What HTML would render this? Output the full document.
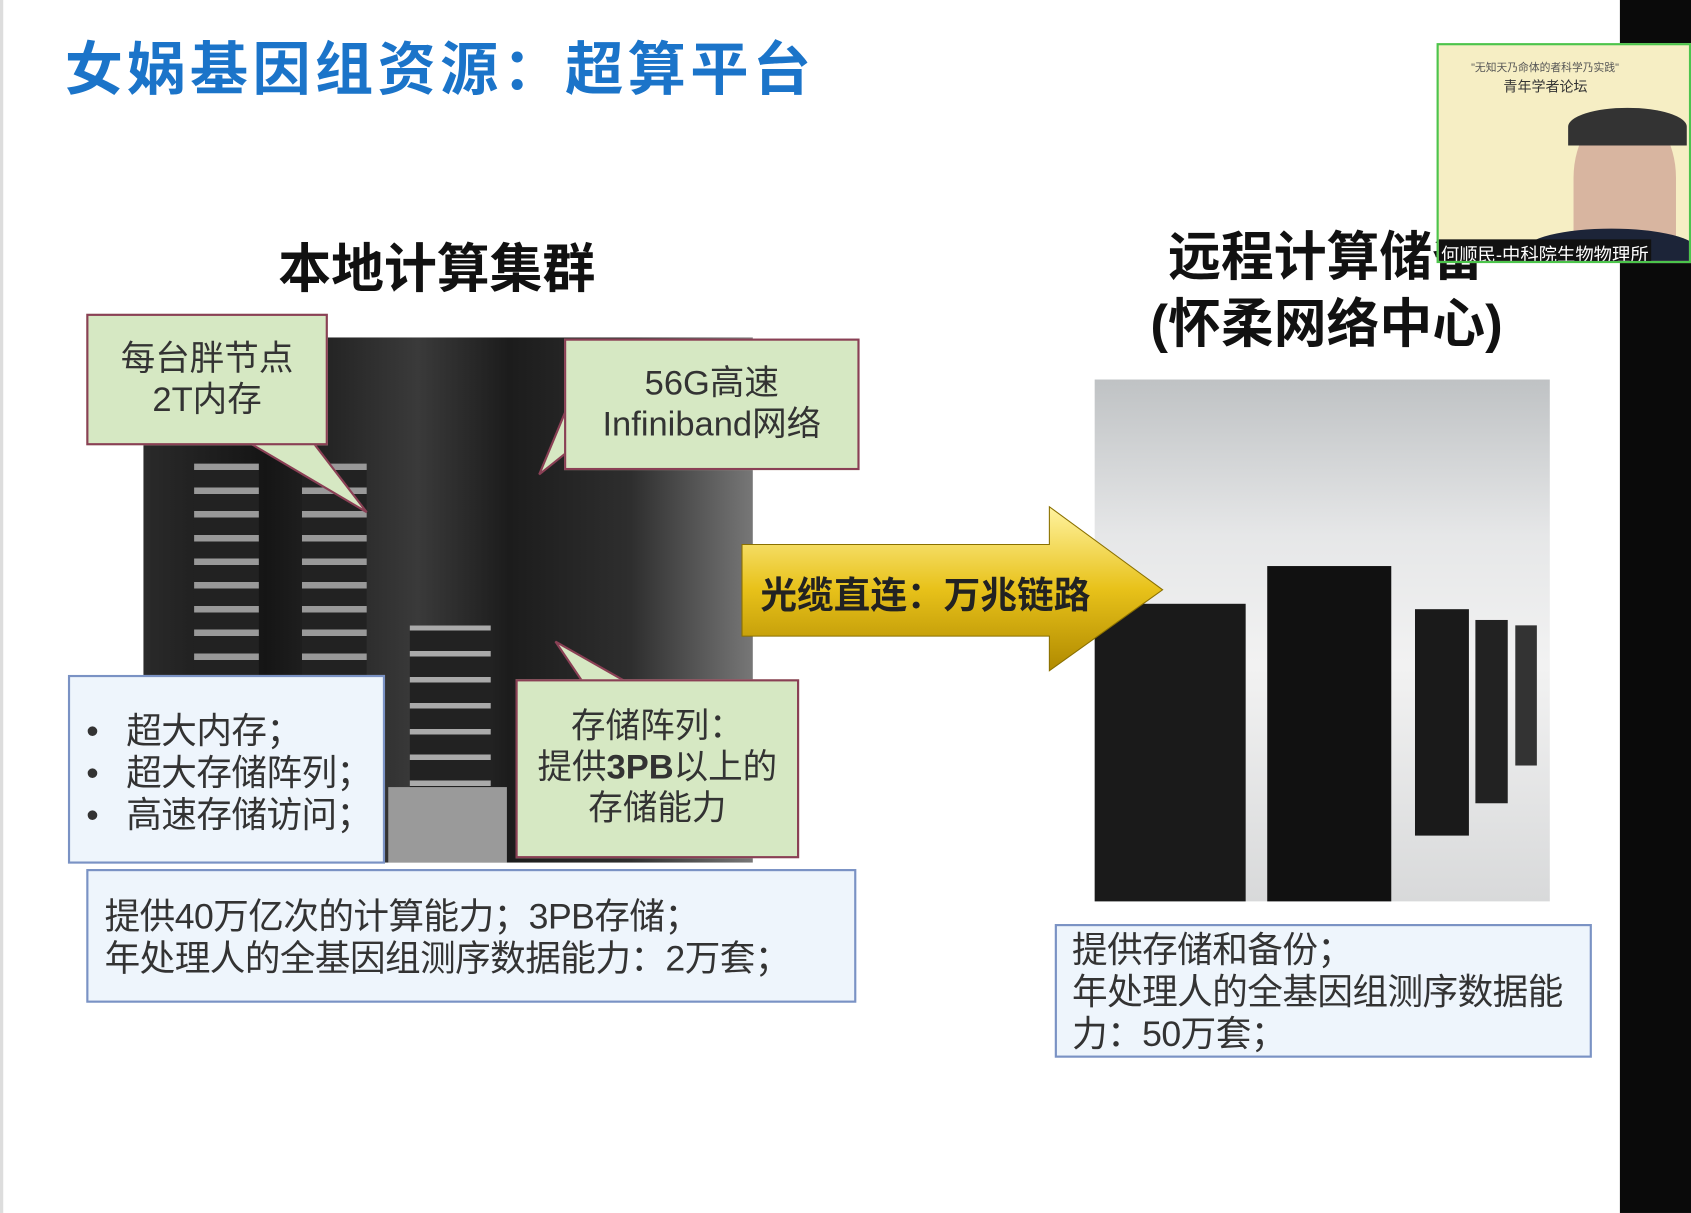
<!DOCTYPE html>
<html><head><meta charset="utf-8"><style>
html,body{margin:0;padding:0;width:1691px;height:1213px;overflow:hidden;background:#fff}
#s{position:absolute;left:0;top:0;width:1568px;height:1125px;transform:scale(1.0785,1.0782);transform-origin:0 0;font-family:"Liberation Sans","Noto Sans CJK SC",sans-serif;}
.a{position:absolute;box-sizing:border-box}
.g{background:#d6e8c3;border:2px solid #8a4055;color:#333;font-size:32px;text-align:center;line-height:38px}
.b{background:#eef5fc;border:2px solid #7a92c4;color:#333;font-size:33px;line-height:39px;letter-spacing:-0.5px}
</style></head><body><div id="s">
<div class="a" style="left:1502px;top:0;width:66px;height:1125px;background:#0a0a0a"></div>
<div class="a" style="left:0;top:0;width:3px;height:1125px;background:#ddd"></div>
<div class="a" style="left:60px;top:20px;font-size:54px;font-weight:bold;color:#1b74c9;letter-spacing:4px;white-space:nowrap">女娲基因组资源：超算平台</div>
<div class="a" style="left:258px;top:210px;font-size:49px;font-weight:bold;color:#111;white-space:nowrap">本地计算集群</div>
<div class="a" style="left:1040px;top:208px;width:380px;text-align:center;font-size:49px;font-weight:bold;color:#111;line-height:62px;white-space:nowrap">远程计算储备<br>(怀柔网络中心)</div>
<!-- left photo -->
<div class="a" style="left:133px;top:313px;width:565px;height:487px;background:linear-gradient(90deg,#2a2a2a,#151515 20%,#3a3a3a 45%,#1c1c1c 60%,#2e2e2e 80%,#777 100%)"></div>
<div class="a" style="left:180px;top:430px;width:60px;height:200px;background:repeating-linear-gradient(#999 0 6px,#222 6px 22px)"></div>
<div class="a" style="left:280px;top:430px;width:60px;height:200px;background:repeating-linear-gradient(#999 0 6px,#222 6px 22px)"></div>
<div class="a" style="left:380px;top:580px;width:75px;height:150px;background:repeating-linear-gradient(#aaa 0 5px,#222 5px 24px)"></div>
<div class="a" style="left:360px;top:730px;width:110px;height:70px;background:#9a9a9a"></div>
<!-- right photo -->
<div class="a" style="left:1015px;top:352px;width:422px;height:484px;background:linear-gradient(180deg,#bfc2c4,#e6e7e8 30%,#f2f2f2 55%,#d8d9da 100%)"></div>
<div class="a" style="left:1015px;top:560px;width:140px;height:276px;background:#1a1a1a"></div>
<div class="a" style="left:1175px;top:525px;width:115px;height:311px;background:#111"></div>
<div class="a" style="left:1312px;top:565px;width:50px;height:210px;background:#1a1a1a"></div>
<div class="a" style="left:1368px;top:575px;width:30px;height:170px;background:#222"></div>
<div class="a" style="left:1405px;top:580px;width:20px;height:130px;background:#333"></div>
<!-- arrow -->
<svg class="a" style="left:685px;top:465px" width="400" height="165"><defs><linearGradient id="y" x1="0" y1="0" x2="0" y2="1"><stop offset="0" stop-color="#fff3a0"/><stop offset=".5" stop-color="#e8c21a"/><stop offset="1" stop-color="#b08a00"/></linearGradient></defs><polygon points="3,40 288,40 288,5 393,82 288,157 288,125 3,125" fill="url(#y)" stroke="#8a7000" stroke-width="1"/></svg>
<div class="a" style="left:705px;top:525px;font-size:34px;font-weight:bold;color:#222;white-space:nowrap">光缆直连：万兆链路</div>
<!-- callouts -->
<svg class="a" style="left:0;top:0" width="900" height="800"><polygon points="230,410 290,410 340,475" fill="#d6e8c3" stroke="#8a4055" stroke-width="2"/><polygon points="525,380 525,420 500,440" fill="#d6e8c3" stroke="#8a4055" stroke-width="2"/><polygon points="540,632 580,632 515,595" fill="#d6e8c3" stroke="#8a4055" stroke-width="2"/></svg>
<div class="a g" style="left:80px;top:291px;width:224px;height:122px;padding-top:20px">每台胖节点<br>2T内存</div>
<div class="a g" style="left:523px;top:314px;width:274px;height:122px;padding-top:20px">56G高速<br>Infiniband网络</div>
<div class="a g" style="left:478px;top:630px;width:263px;height:166px;padding-top:22px">存储阵列：<br>提供<b>3PB</b>以上的<br>存储能力</div>
<div class="a b" style="left:63px;top:626px;width:294px;height:175px;padding:30px 0 0 15px;white-space:nowrap">•&nbsp;&nbsp;&nbsp;超大内存；<br>•&nbsp;&nbsp;&nbsp;超大存储阵列；<br>•&nbsp;&nbsp;&nbsp;高速存储访问；</div>
<div class="a b" style="left:80px;top:806px;width:714px;height:124px;padding:22px 0 0 15px;white-space:nowrap">提供40万亿次的计算能力；3PB存储；<br>年处理人的全基因组测序数据能力：2万套；</div>
<div class="a b" style="left:978px;top:857px;width:498px;height:124px;padding:2px 0 0 14px;white-space:nowrap">提供存储和备份；<br>年处理人的全基因组测序数据能<br>力：50万套；</div>
<!-- webcam -->
<div class="a" style="left:1332px;top:40px;width:236px;height:204px;background:#f6eec4;border:2px solid #4cc44c;overflow:hidden">
<div class="a" style="left:30px;top:12px;font-size:10px;color:#555">"无知天乃命体的者科学乃实践"</div>
<div class="a" style="left:60px;top:28px;font-size:13px;color:#333">青年学者论坛</div>
<div class="a" style="left:125px;top:60px;width:95px;height:140px;border-radius:45% 45% 0 0;background:#d8b5a0"></div>
<div class="a" style="left:120px;top:58px;width:110px;height:35px;border-radius:50% 50% 0 0;background:#333"></div>
<div class="a" style="left:80px;top:170px;width:160px;height:40px;border-radius:50% 50% 0 0;background:#1c2438"></div>
<div class="a" style="left:0;top:180px;background:#111;color:#fff;font-size:17px;padding:0 2px;white-space:nowrap">何顺民-中科院生物物理所</div>
</div>
</div></body></html>
